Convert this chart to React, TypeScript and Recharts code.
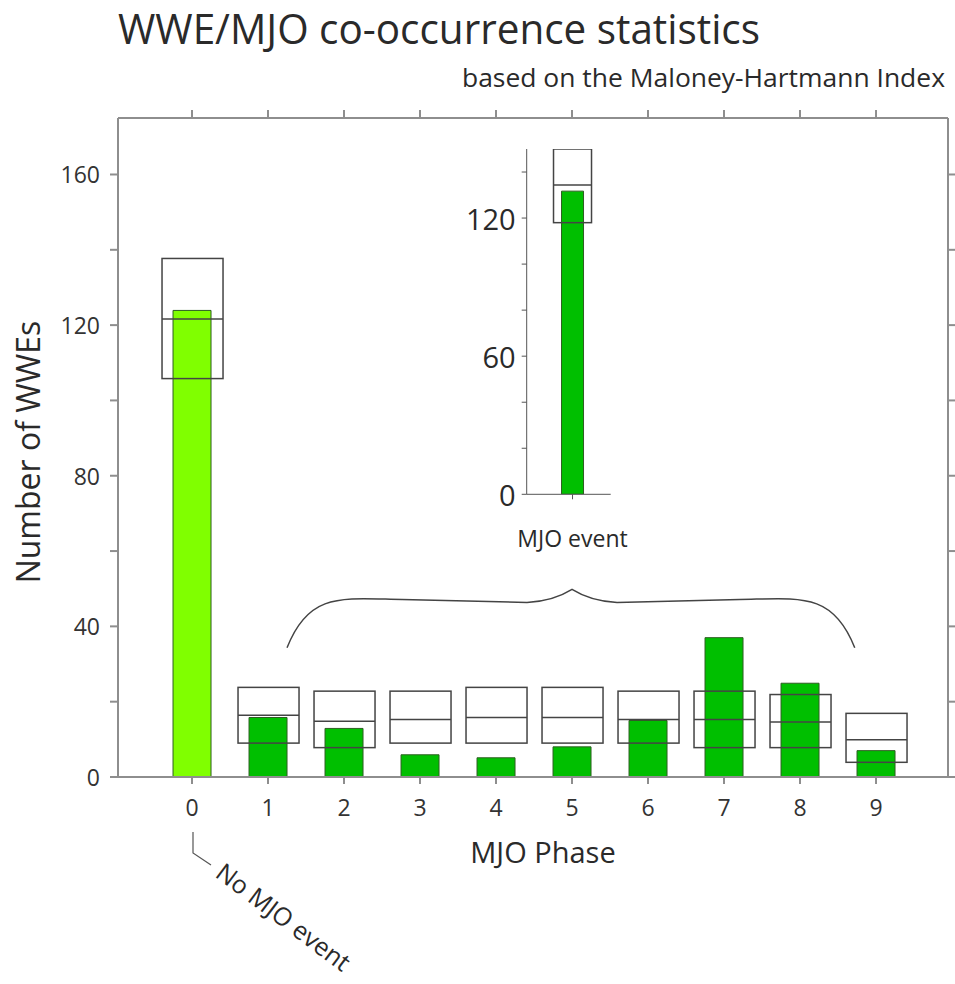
import { Bar, BarChart, Cell, ComposedChart, XAxis, YAxis } from 'recharts';

// WWE counts per MJO phase (phase 0 = no MJO event)
const phases = [0, 1, 2, 3, 4, 5, 6, 7, 8, 9];
const wweCounts = [123.9, 15.8, 12.9, 5.9, 5.1, 8, 15, 37, 24.9, 7];
// expected range from random sampling (box low / high / median)
const boxLow = [105.8, 9, 7.8, 9, 9, 9, 9, 7.8, 7.8, 3.9];
const boxHigh = [137.7, 23.8, 22.8, 22.8, 23.8, 23.8, 22.8, 22.8, 21.9, 16.9];
const boxMedian = [121.6, 16.4, 14.8, 15.3, 15.8, 15.8, 15.3, 15.3, 14.6, 9.9];
const yTicks = [0, 20, 40, 60, 80, 100, 120, 140, 160];

// inset: all phases 1-9 combined
const insetCategory = ['MJO event'];
const insetCount = [131.7];
const insetLow = [118];
const insetHigh = [150];
const insetMedian = [134.4];
const insetTicks = [0, 20, 40, 60, 80, 100, 120, 140];

const FONT = '"Open Sans", "Noto Sans", sans-serif';
const W = 955;
const H = 984;
const FRAME = '#8e8e8e';
const INK = '#2a2a2a';

const plot = { left: 118, right: 948, top: 118, bottom: 777 };
const xDomain: [number, number] = [-0.974, 9.947];
const yDomain: [number, number] = [0, 175];
const insetXDomain: [number, number] = [-1.2, 1];

const rows = phases.map((p, i) => ({
  phase: p,
  count: wweCounts[i],
  box: [boxLow[i], boxHigh[i]],
  median: boxMedian[i],
}));

const insetRows = insetCategory.map((c, i) => ({
  pos: 0,
  name: c,
  count: insetCount[i],
  box: [insetLow[i], insetHigh[i]],
  median: insetMedian[i],
}));

// same mapping as the main chart's axes, used for the brace annotation
const px = (v: number) =>
  plot.left + ((v - xDomain[0]) / (xDomain[1] - xDomain[0])) * (plot.right - plot.left);
const py = (v: number) =>
  plot.bottom - ((v - yDomain[0]) / (yDomain[1] - yDomain[0])) * (plot.bottom - plot.top);

function BoxShape(props: any) {
  const { x, y, width, height, payload } = props;
  const top = Math.min(y, y + height);
  const h = Math.abs(height);
  const [lo, hi] = payload.box;
  const my = top + (h * (hi - payload.median)) / (hi - lo);
  return (
    <g>
      <rect x={x} y={top} width={width} height={h} fill="none" stroke="#444" strokeWidth={1.5} />
      <line x1={x} x2={x + width} y1={my} y2={my} stroke="#444" strokeWidth={1.5} />
    </g>
  );
}

function LeftTick({ x, y, payload }: any) {
  if (payload.value % 40 !== 0) return <g />;
  return (
    <text x={x} y={y} textAnchor="end" dominantBaseline="central" fontSize={23} fill="#333" fontFamily={FONT}>
      {payload.value}
    </text>
  );
}

function InsetTick({ x, y, payload }: any) {
  if (payload.value % 60 !== 0) return <g />;
  return (
    <text x={x} y={y} textAnchor="end" dominantBaseline="central" fontSize={29} fill={INK} fontFamily={FONT}>
      {payload.value}
    </text>
  );
}

const Empty = () => <g />;

function Brace() {
  const x0 = px(1.25);
  const x1 = px(8.72);
  const xm = px(5);
  const yEnd = py(34.3);
  const yFlat = py(46.6);
  const yPeak = py(49.8);
  const d = [
    `M ${x0} ${yEnd}`,
    `C ${x0 + 22} ${yFlat - 10}, ${x0 + 55} ${yFlat - 3}, ${x0 + 115} ${yFlat - 2}`,
    `L ${xm - 45} ${yFlat + 1}`,
    `C ${xm - 22} ${yFlat}, ${xm - 8} ${yPeak + 5}, ${xm} ${yPeak}`,
    `C ${xm + 8} ${yPeak + 5}, ${xm + 22} ${yFlat}, ${xm + 45} ${yFlat + 1}`,
    `L ${x1 - 115} ${yFlat - 2}`,
    `C ${x1 - 55} ${yFlat - 3}, ${x1 - 22} ${yFlat - 10}, ${x1} ${yEnd}`,
  ].join(' ');
  return <path d={d} fill="none" stroke="#444" strokeWidth={1.5} />;
}

export default function App() {
  const axisLine = { stroke: FRAME, strokeWidth: 2 };
  const insetLine = { stroke: '#555', strokeWidth: 1 };
  return (
    <div style={{ position: 'absolute', left: 0, top: 0, width: W, height: H, background: '#fff' }}>
      <div style={{ position: 'absolute', left: 0, top: 0 }}>
        <ComposedChart
          width={W}
          height={H}
          data={rows}
          margin={{ top: plot.top - 10, right: W - plot.right - 7, bottom: H - plot.bottom - 50, left: plot.left - 60 }}
        >
          <XAxis
            xAxisId="bottom"
            dataKey="phase"
            type="number"
            domain={xDomain}
            ticks={phases}
            height={50}
            tickSize={7}
            tickMargin={16}
            axisLine={axisLine}
            tickLine={axisLine}
            tick={{ fontSize: 23, fill: '#333', fontFamily: FONT }}
            allowDataOverflow
          />
          <XAxis
            xAxisId="top"
            dataKey="phase"
            type="number"
            orientation="top"
            domain={xDomain}
            ticks={phases}
            height={10}
            tickSize={8}
            axisLine={axisLine}
            tickLine={axisLine}
            tick={Empty}
            allowDataOverflow
          />
          <YAxis
            yAxisId="left"
            domain={yDomain}
            ticks={yTicks}
            width={60}
            tickSize={8}
            tickMargin={10}
            axisLine={axisLine}
            tickLine={axisLine}
            tick={<LeftTick />}
            allowDataOverflow
          />
          <YAxis
            yAxisId="right"
            orientation="right"
            domain={yDomain}
            ticks={yTicks}
            width={7}
            tickSize={8}
            axisLine={axisLine}
            tickLine={axisLine}
            tick={Empty}
            allowDataOverflow
          />
          <Bar xAxisId="bottom" yAxisId="left" dataKey="count" barSize={38} stroke="#2e5e22" strokeWidth={1} isAnimationActive={false}>
            {rows.map((r, i) => (
              <Cell key={r.phase} fill={i === 0 ? '#80ff00' : '#00bf00'} />
            ))}
          </Bar>
          <Bar xAxisId="top" yAxisId="left" dataKey="box" barSize={61} shape={<BoxShape />} isAnimationActive={false} />
        </ComposedChart>
      </div>

      {/* inset: combined MJO event count */}
      <div style={{ position: 'absolute', left: 440, top: 130 }}>
        <BarChart width={220} height={430} data={insetRows} margin={{ top: 19, right: 49.3, bottom: 35.7, left: 6.7 }}>
          <XAxis
            xAxisId="main"
            dataKey="pos"
            type="number"
            domain={insetXDomain}
            ticks={[0]}
            height={30}
            tickSize={5}
            tickMargin={31}
            tickFormatter={() => insetCategory[0]}
            axisLine={insetLine}
            tickLine={insetLine}
            tick={{ fontSize: 23, fill: INK, fontFamily: FONT }}
            allowDataOverflow
          />
          <XAxis
            xAxisId="box"
            dataKey="pos"
            type="number"
            orientation="top"
            height={0}
            domain={insetXDomain}
            hide
            allowDataOverflow
          />
          <YAxis
            domain={[0, 150]}
            ticks={insetTicks}
            width={80}
            tickSize={5}
            tickMargin={6}
            axisLine={insetLine}
            tickLine={insetLine}
            tick={<InsetTick />}
            allowDataOverflow
          />
          <Bar xAxisId="main" dataKey="count" barSize={22} fill="#00bf00" stroke="#2e5e22" strokeWidth={1} isAnimationActive={false} />
          <Bar xAxisId="box" dataKey="box" barSize={38} shape={<BoxShape />} isAnimationActive={false} />
        </BarChart>
      </div>

      <svg width={W} height={H} style={{ position: 'absolute', left: 0, top: 0, pointerEvents: 'none' }}>
        <g fontFamily={FONT} fill={INK}>
          <text x={118} y={44} fontSize={42} textLength={642} lengthAdjust="spacingAndGlyphs">
            WWE/MJO co-occurrence statistics
          </text>
          <text x={462} y={87} fontSize={25} textLength={483} lengthAdjust="spacingAndGlyphs">
            based on the Maloney-Hartmann Index
          </text>
          <text x={543} y={863} fontSize={29} textAnchor="middle">
            MJO Phase
          </text>
          <text transform="translate(40,452) rotate(-90)" fontSize={32} textAnchor="middle">
            Number of WWEs
          </text>
          <text transform="translate(214,876) rotate(37)" fontSize={25}>
            No MJO event
          </text>
        </g>
        <polyline points="193,832 193,853 211,865" fill="none" stroke="#555" strokeWidth={1.2} />
        <Brace />
      </svg>
    </div>
  );
}
